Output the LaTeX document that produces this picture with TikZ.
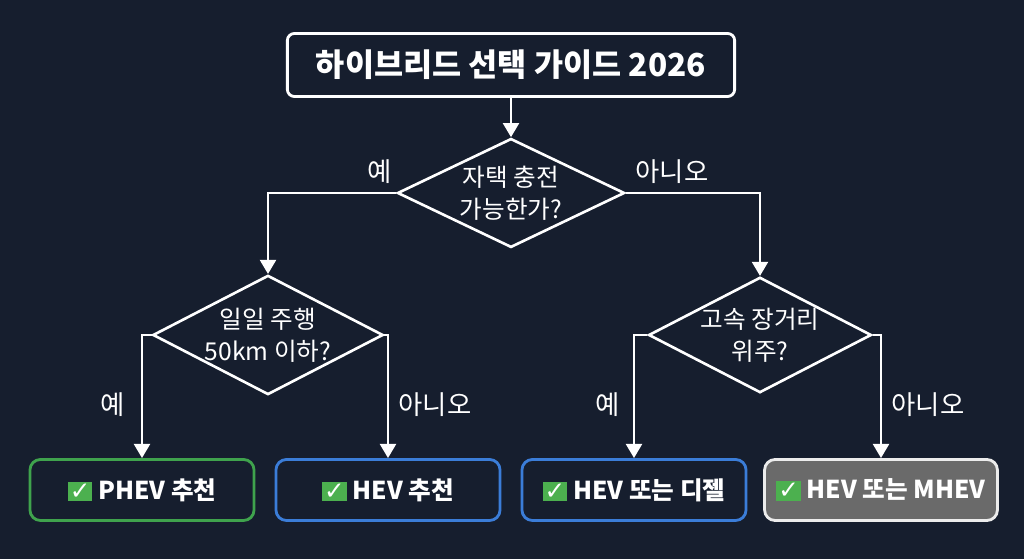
\documentclass[tikz,border=0pt]{standalone}
\usepackage{fontspec}
\setmainfont{Noto Sans CJK KR}
\newfontfamily\symfont{DejaVu Sans}
\usetikzlibrary{shapes.geometric,arrows.meta}
\definecolor{bgnavy}{HTML}{161E2E}
\definecolor{okgreen}{HTML}{3FA34D}
\definecolor{boxblue}{HTML}{3B7DD8}
\definecolor{chkgreen}{HTML}{4CB04F}
\definecolor{mgray}{HTML}{6A6A6A}
\newcommand{\chk}{{\setlength\fboxsep{0.6pt}\colorbox{chkgreen}{\textcolor{white}{\symfont\bfseries ✓}}}}
\tikzset{
  flow/.style={draw=white,line width=0.75pt,-{Triangle[length=4pt,width=4.5pt,fill=white]}},
  decision/.style={diamond,draw=white,line width=0.75pt,inner sep=0pt,align=center,
    text=white,font=\fontsize{7pt}{9pt}\selectfont},
  result/.style={draw=#1,rounded corners=3pt,line width=0.8pt,minimum width=2.24cm,
    minimum height=0.61cm,text=white,font=\fontsize{7pt}{9pt}\selectfont\bfseries},
  answer/.style={text=white,font=\fontsize{7.5pt}{9pt}\selectfont}
}
\begin{document}
\begin{tikzpicture}[x=0.01cm,y=-0.01cm]
\fill[bgnavy] (0,0) rectangle (1024,559);

% title
\node[draw=white,rounded corners=2pt,line width=0.8pt,minimum width=4.47cm,minimum height=0.63cm,
  text=white,font=\fontsize{9pt}{11pt}\selectfont\bfseries] (title) at (511,65) {하이브리드 선택 가이드 2026};

% decisions
\node[decision,minimum width=2.27cm,aspect=1.86] (home) at (511,193) {자택 충전\\가능한가?};
\node[decision,minimum width=2.2cm,aspect=1.93] (daily) at (268,335) {일일 주행\\50km 이하?};
\node[decision,minimum width=2.2cm,aspect=1.93] (highway) at (760,335) {고속 장거리\\위주?};

% results
\node[result=okgreen] (phev) at (142,490) {\chk{} PHEV 추천};
\node[result=boxblue] (hev) at (388,490) {\chk{} HEV 추천};
\node[result=boxblue] (diesel) at (634,490) {\chk{} HEV 또는 디젤};
\node[result=white!85!gray,fill=mgray] (mhev) at (881,490) {\chk{} HEV 또는 MHEV};

% connectors
\draw[flow] (title) -- (home);
\draw[flow] (home.west) -| (daily.north);
\draw[flow] (home.east) -| (highway.north);
\draw[flow] (daily.west) -| (phev.north);
\draw[flow] (daily.east) -| (hev.north);
\draw[flow] (highway.west) -| (diesel.north);
\draw[flow] (highway.east) -| (mhev.north);

% answers
\node[answer] (y1) at (380,172) {예};
\node[answer] (n1) at (672,172) {아니오};
\node[answer] (y2) at (113,405) {예};
\node[answer] (n2) at (435,405) {아니오};
\node[answer] (y3) at (608,405) {예};
\node[answer] (n3) at (928,405) {아니오};
\end{tikzpicture}
\end{document}
